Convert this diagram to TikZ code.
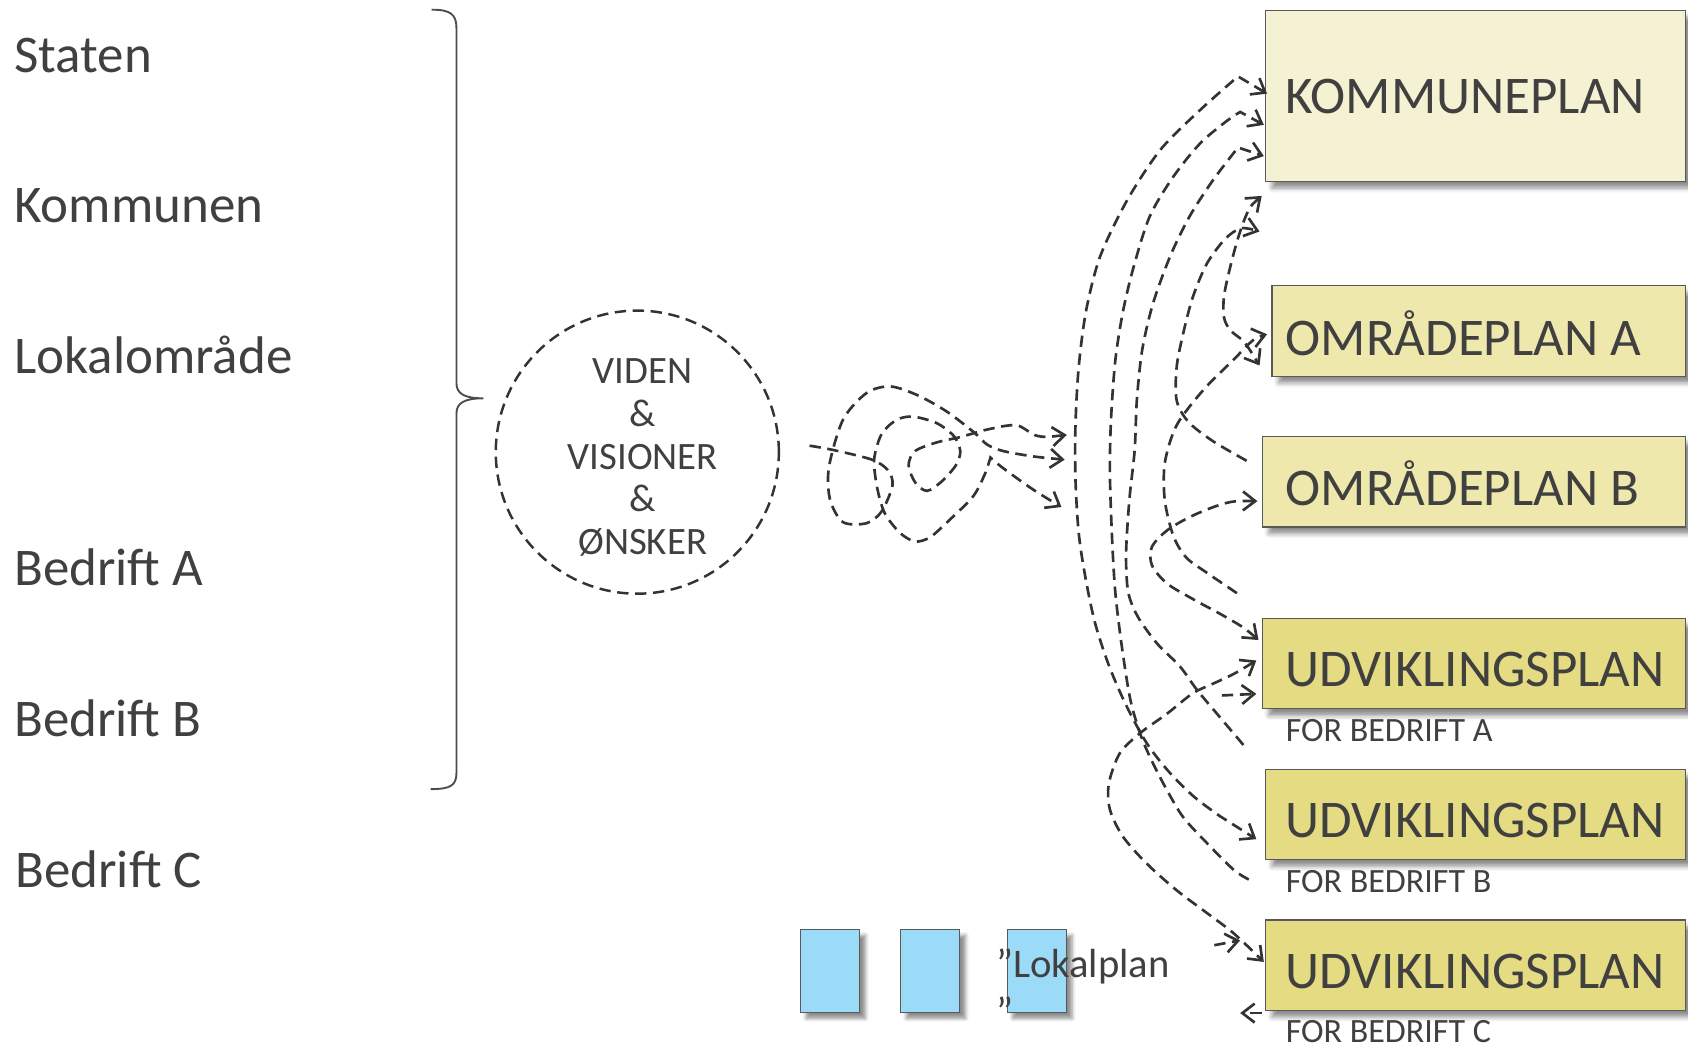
\documentclass[tikz,border=0pt]{standalone}
\usepackage{fontspec}
\setmainfont{Carlito}
\usepackage{tikz}
\usetikzlibrary{arrows.meta,positioning,calc,shadows.blur}
\definecolor{inkgray}{HTML}{404040}
\definecolor{linegray}{HTML}{333333}
\definecolor{kommfill}{HTML}{F5F1D3}
\definecolor{omrfill}{HTML}{EEE8AC}
\definecolor{udvfill}{HTML}{E4DB82}
\definecolor{lokfill}{HTML}{9CDBF8}

\begin{document}
\begin{tikzpicture}[x = 0.02cm, y = -0.02cm,
    lbl/.style = {anchor = base west, inner sep = 0pt, text = inkgray, font = \fontsize{28}{34}\selectfont},
    plan/.style = {draw = black!65, line width = 0.6pt, anchor = north west, inner sep = 0pt, minimum height = 1.68cm,
      blur shadow = {shadow xshift = 3.5pt, shadow yshift = -3.5pt, shadow blur radius = 2.5pt, shadow opacity = 45}},
    plantxt/.style = {anchor = base west, inner sep = 0pt, text = inkgray, font = \fontsize{28}{33}\selectfont},
    fortxt/.style = {anchor = base west, inner sep = 0pt, text = inkgray, font = \fontsize{18}{22}\selectfont},
    lok/.style = {draw = black!65, line width = 0.6pt, fill = lokfill, anchor = north west, inner sep = 0pt,
      minimum width = 1.1cm, minimum height = 1.54cm,
      blur shadow = {shadow xshift = 3pt, shadow yshift = -3pt, shadow blur radius = 2pt, shadow opacity = 45}},
    flow/.style = {draw = linegray, line width = 1.4pt, dash pattern = on 6pt off 3.5pt,
      >= {Straight Barb[length = 6.5pt, width = 10pt]}}]
    \useasboundingbox (0,0) rectangle (1568,973);
    % left column
    \node[lbl] (staten) at (13,67) {Staten};
    \node[lbl] (kommunen) at (13,207) {Kommunen};
    \node[lbl] (lokal) at (13,347) {Lokalområde};
    \node[lbl] (bedra) at (13,544) {Bedrift A};
    \node[lbl] (bedrb) at (13,684) {Bedrift B};
    \node[lbl] (bedrc) at (14,824) {Bedrift C};
    \draw[black!70, line width = 1pt] (401,9) .. controls (418,9) and (424,13) .. (424,26) -- (424,356)
      .. controls (424,366) and (432,370) .. (449,370) .. controls (432,370) and (424,374) .. (424,384)
      -- (424,718) .. controls (424,730) and (418,733) .. (400,733);
    % circle
    \node[circle, draw = linegray, line width = 1.3pt, dash pattern = on 6pt off 3.5pt, minimum size = 5.26cm, inner sep = 0pt] (viden) at (592,420) {};
    \node[align = center, text = inkgray, font = \fontsize{20.5}{22.5}\selectfont] (vidtxt) at (597,425) {VIDEN\\\&\\VISIONER\\\&\\ØNSKER};
    % plans
    \node[plan, fill = kommfill, minimum width = 7.8cm, minimum height = 3.18cm] (komm) at (1175,9) {};
    \node[plan, fill = omrfill, minimum width = 7.68cm] (omra) at (1181,265) {};
    \node[plan, fill = omrfill, minimum width = 7.86cm] (omrb) at (1172,405) {};
    \node[plan, fill = udvfill, minimum width = 7.86cm] (udva) at (1172,574) {};
    \node[plan, fill = udvfill, minimum width = 7.8cm] (udvb) at (1175,714) {};
    \node[plan, fill = udvfill, minimum width = 7.8cm] (udvc) at (1175,854) {};
    \node[plantxt] (kommtxt) at (1194,105) {KOMMUNEPLAN};
    \node[plantxt] (omratxt) at (1194,330) {OMRÅDEPLAN A};
    \node[plantxt] (omrbtxt) at (1194,470) {OMRÅDEPLAN B};
    \node[plantxt] (udvatxt) at (1194,638) {UDVIKLINGSPLAN};
    \node[plantxt] (udvbtxt) at (1194,778) {UDVIKLINGSPLAN};
    \node[plantxt] (udvctxt) at (1194,918) {UDVIKLINGSPLAN};
    \node[fortxt] (fora) at (1194,689) {FOR BEDRIFT A};
    \node[fortxt] (forb) at (1194,829) {FOR BEDRIFT B};
    \node[fortxt] (forc) at (1194,968) {FOR BEDRIFT C};
    % lokalplaner
    \node[lok] (lok1) at (743,863) {};
    \node[lok] (lok2) at (836,863) {};
    \node[lok] (lok3) at (935,863) {};
    \node[anchor = base west, inner sep = 0pt, align = left, text = inkgray, font = \fontsize{21.5}{25.5}\selectfont] (lokp) at (925,953) {”Lokalplan\\”};
    % arrow ends
    \coordinate (k1) at ($(komm.north west)+(2,78)$);
    \coordinate (k2) at ($(komm.north west)+(-1,107)$);
    \coordinate (k3) at ($(komm.north west)+(-1,136)$);
    \coordinate (k4) at ($(komm.south west)+(-3,13)$);
    \coordinate (k5) at ($(komm.south west)+(-5,46)$);
    \coordinate (a1) at ($(omra.west)+(-4,3)$);
    \coordinate (a2) at ($(omra.west)+(-11,32)$);
    \coordinate (b1) at ($(omrb.west)+(-4,18)$);
    \coordinate (u1) at ($(udva.west)+(-3,-22)$);
    \coordinate (u2) at ($(udva.west)+(-5,-3)$);
    \coordinate (u3) at ($(udva.west)+(-5,28)$);
    \coordinate (v1) at ($(udvb.west)+(-8,23)$);
    \coordinate (w1) at ($(udvc.west)+(-1,-3)$);
    \coordinate (w2) at ($(udvc.west)+(-23,-23)$);
    \coordinate (w3) at ($(udvc.south west)+(-23,2)$);
    \coordinate (w3s) at ($(udvc.south west)+(-3,2)$);
    \coordinate (js) at (1135,646);
    \coordinate (ks) at (1128,878);
    % free ends
    \coordinate (fa) at (1150,71);
    \coordinate (fb) at (1160,817);
    \coordinate (fc) at (1155,692);
    \coordinate (fd) at (1149,551);
    \coordinate (ff) at (1158,428);
    % knot
    \coordinate (kin) at (752,414);
    \coordinate (o1) at (991,404);
    \coordinate (o2) at (989,427);
    \coordinate (o3) at (986,471);
    \draw[flow, ->] plot[smooth] coordinates {(kin) (774,418) (810,427) (825,437) (829,451) (819,475) (805,486) (783,485)
      (771,464) (770,434) (783,390) (805,365) (827,359) (852,367) (879,382) (904,401) (917,413) (932,419) (960,424) (o2)};
    \draw[flow, <->] plot[smooth] coordinates {(o1) (964,405) (944,395) (917,399) (892,406) (870,411) (850,419) (844,432)
      (850,448) (861,456) (875,447) (888,432) (892,419) (886,405) (870,393) (848,387) (833,390) (819,403) (812,427)
      (815,454) (822,477) (836,495) (850,503) (864,499) (882,483) (904,461) (915,440) (920,425)}
      -- plot[smooth] coordinates {(920,425) (932,435) (960,455) (o3)};
    % plans web
    \draw[flow, <->] (k1) -- (fa) -- plot[smooth] coordinates {(fa) (1115,102) (1078,139) (1047,186) (1022,238) (1009,288)
      (1002,341) (999,395) (999,445) (1002,495) (1008,535) (1017,578) (1030,618) (1046,655) (1065,690) (1085,716)
      (1109,740) (1133,758)} -- (v1);
    \draw[flow, ->] plot[smooth] coordinates {(fb) (1146,808) (1121,783) (1099,759) (1084,734) (1071,709) (1060,684)
      (1050,650) (1042,600) (1036,550) (1033,500) (1031,440) (1032,390) (1036,335) (1043,290) (1053,248) (1068,201)
      (1090,164) (1115,133) (1140,112) (1152,104)} -- (k2);
    \draw[flow, ->] plot[smooth] coordinates {(fc) (1133,666) (1112,641) (1096,619) (1075,598) (1057,573) (1048,550)
      (1046,515) (1049,465) (1054,418) (1056,372) (1061,325) (1071,282) (1087,238) (1105,201) (1127,167) (1150,137)} -- (k3);
    \draw[flow, ->] plot[smooth] coordinates {(fd) (1121,532) (1102,518) (1090,498) (1082,465) (1082,430) (1093,395)
      (1118,362) (1146,334) (1164,316) (a1)};
    \draw[flow, <->] plot[smooth] coordinates {(k4) (1160,195) (1151,218) (1143,247) (1137,275) (1137,295) (1143,307)
      (1156,318) (a2)};
    \draw[flow, ->] plot[smooth] coordinates {(ff) (1127,410) (1104,392) (1093,372) (1093,341) (1099,310) (1108,276)
      (1121,245) (1138,222) (1153,212) (k5)};
    \draw[flow, <->] plot[smooth] coordinates {(b1) (1140,467) (1110,478) (1085,492) (1070,508) (1070,525) (1084,542)
      (1109,557) (1133,570) (1155,583) (u1)};
    \draw[flow, <->] plot[smooth] coordinates {(u2) (1146,626) (1127,635) (1108,644) (1084,663) (1059,681) (1040,700)
      (1030,728) (1031,752) (1043,777) (1065,802) (1093,827) (1121,848) (1146,867) (w1)};
    \draw[flow, ->] (js) -- (u3);
    \draw[flow, ->] (ks) -- (w2);
    \draw[flow, ->] (w3s) -- (w3);
\end{tikzpicture}
\end{document}
